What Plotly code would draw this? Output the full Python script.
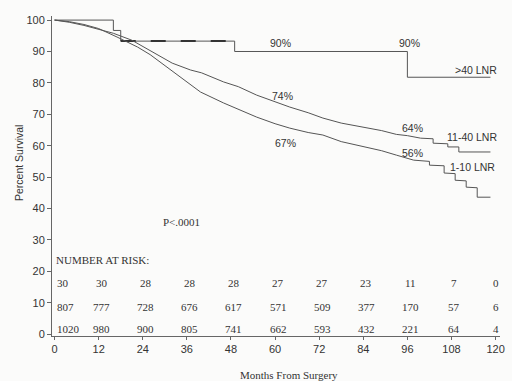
import plotly.graph_objects as go

# ---- data ----
gt40_months = [0, 16, 18, 49, 96, 118.6]
gt40_surv = [100, 96.7, 93.3, 90, 81.8, 81.8]

g11_40_months = [0, 4, 8, 12, 16, 21, 26, 32, 37, 40, 46, 50, 55, 60, 64, 69, 73, 78, 84, 89, 93, 96,
                 99.6, 103, 103, 107, 107, 110, 110, 118.6]
g11_40_surv = [100, 99.3, 98.3, 97.0, 95.8, 93.6, 90.4, 86.3, 84.1, 83.2, 80.3, 78.8, 76.1, 74.0, 72.3,
               70.5, 68.8, 67.2, 65.9, 64.8, 63.6, 63.2,
               62.4, 62.2, 60.8, 60.6, 59.6, 59.6, 58.0, 58.0]

g1_10_months = [0, 4, 8, 12, 17, 22.6, 26, 28.8, 33.4, 37, 39.7, 46, 50, 55, 60, 64, 69, 73, 78, 84, 89,
                93, 96, 97.7, 102, 102, 106, 106, 109, 109, 112, 112, 115, 115, 118.6]
g1_10_surv = [100, 99.5, 98.6, 97.3, 94.6, 91.4, 89.0, 86.6, 82.5, 79.3, 77.1, 73.6, 71.5, 69.1, 67.0,
              65.6, 64.2, 63.4, 61.3, 59.6, 58.4, 57.0, 56.0, 55.4, 55.0, 53.8, 53.6, 51.3, 51.1, 49.0,
              48.8, 46.8, 46.6, 43.6, 43.6]

x_ticks = [0, 12, 24, 36, 48, 60, 72, 84, 96, 108, 120]
y_ticks = [0, 10, 20, 30, 40, 50, 60, 70, 80, 90, 100]

risk_gt40 = [30, 30, 28, 28, 28, 27, 27, 23, 11, 7, 0]
risk_11_40 = [807, 777, 728, 676, 617, 571, 509, 377, 170, 57, 6]
risk_1_10 = [1020, 980, 900, 805, 741, 662, 593, 432, 221, 64, 4]

curve_labels = [
    ("90%", 61.6, 92.7), ("90%", 96.7, 92.7), (">40 LNR", 114.7, 84.0),
    ("74%", 62.0, 75.8), ("67%", 62.7, 60.8), ("64%", 97.3, 65.6),
    ("11-40 LNR", 113.7, 62.7), ("56%", 97.5, 57.6), ("1-10 LNR", 113.7, 53.2),
]

line_col = "#555555"
txt_col = "#333333"
serif = "Liberation Serif"
sans = "Liberation Sans"

W, H = 512, 381
L, R, T, B = 52, 12, 16, 45
PW, PH = W - L - R, H - T - B


def px(xpix):
    return (xpix - L) / PW


def py(ypix):
    return 1 - (ypix - T) / PH


fig = go.Figure()
fig.add_trace(go.Scatter(x=gt40_months, y=gt40_surv, mode="lines", line_shape="hv",
                         line=dict(color=line_col, width=1), showlegend=False, hoverinfo="skip"))
fig.add_trace(go.Scatter(x=gt40_months[2:4], y=[gt40_surv[2], gt40_surv[2]], mode="lines",
                         line=dict(color="#333333", width=2, dash="longdash"), showlegend=False,
                         hoverinfo="skip"))
fig.add_trace(go.Scatter(x=g11_40_months, y=g11_40_surv, mode="lines",
                         line=dict(color=line_col, width=1), showlegend=False, hoverinfo="skip"))
fig.add_trace(go.Scatter(x=g1_10_months, y=g1_10_surv, mode="lines",
                         line=dict(color=line_col, width=1), showlegend=False, hoverinfo="skip"))

ann = []
for t, x, y in curve_labels:
    ann.append(dict(x=x, y=y, text=t, showarrow=False, xref="x", yref="y",
                    font=dict(family=sans, size=10.5, color=txt_col)))

rows = [(risk_gt40, 16.2), (risk_11_40, 8.6), (risk_1_10, 1.6)]
for vals, yy in rows:
    for i, (m, v) in enumerate(zip(x_ticks, vals)):
        if i == 0:
            ann.append(dict(x=m, y=yy, text=str(v), showarrow=False, xref="x", yref="y",
                            xanchor="left", xshift=0,
                            font=dict(family=serif, size=11, color=txt_col)))
        else:
            ann.append(dict(x=m, y=yy, text=str(v), showarrow=False, xref="x", yref="y",
                            xshift=0 if i == len(vals) - 1 else 3,
                            font=dict(family=serif, size=11, color=txt_col)))

ann.append(dict(x=0, y=23.6, text="NUMBER AT RISK:", showarrow=False, xref="x", yref="y",
                xanchor="left", xshift=-1, font=dict(family=serif, size=11, color=txt_col)))
ann.append(dict(x=34.5, y=35.6, text="P<.0001", showarrow=False, xref="x", yref="y",
                font=dict(family=serif, size=11, color=txt_col)))
ann.append(dict(x=px(289), y=py(375), text="Months From Surgery", showarrow=False,
                xref="paper", yref="paper", yanchor="middle",
                font=dict(family=serif, size=11, color=txt_col)))
ann.append(dict(x=px(19), y=py(163), text="Percent Survival", showarrow=False, textangle=-90,
                xref="paper", yref="paper", xanchor="center", yanchor="middle",
                font=dict(family=sans, size=10.5, color=txt_col)))

fig.update_layout(
    width=W, height=H,
    margin=dict(l=L, r=R, t=T, b=B, autoexpand=False),
    paper_bgcolor="#fbfbfa", plot_bgcolor="#fbfbfa",
    annotations=ann,
)

fig.update_xaxes(range=[-0.7, 121.2], tickvals=x_ticks, showgrid=False, zeroline=False,
                 showline=True, linecolor="#666666", linewidth=1, ticks="outside", ticklen=3,
                 tickcolor="#666666", tickfont=dict(family=sans, size=11, color=txt_col),
                 automargin=False)
fig.update_yaxes(range=[-0.6, 101.3], tickvals=y_ticks, showgrid=False, zeroline=False,
                 showline=True, linecolor="#666666", linewidth=1, ticks="outside", ticklen=4,
                 tickcolor="#666666", tickfont=dict(family=sans, size=11, color=txt_col),
                 automargin=False)

fig.write_html("out.html", config={"displayModeBar": False},
               post_script="document.body.style.margin='0';document.body.style.overflow='hidden';")
